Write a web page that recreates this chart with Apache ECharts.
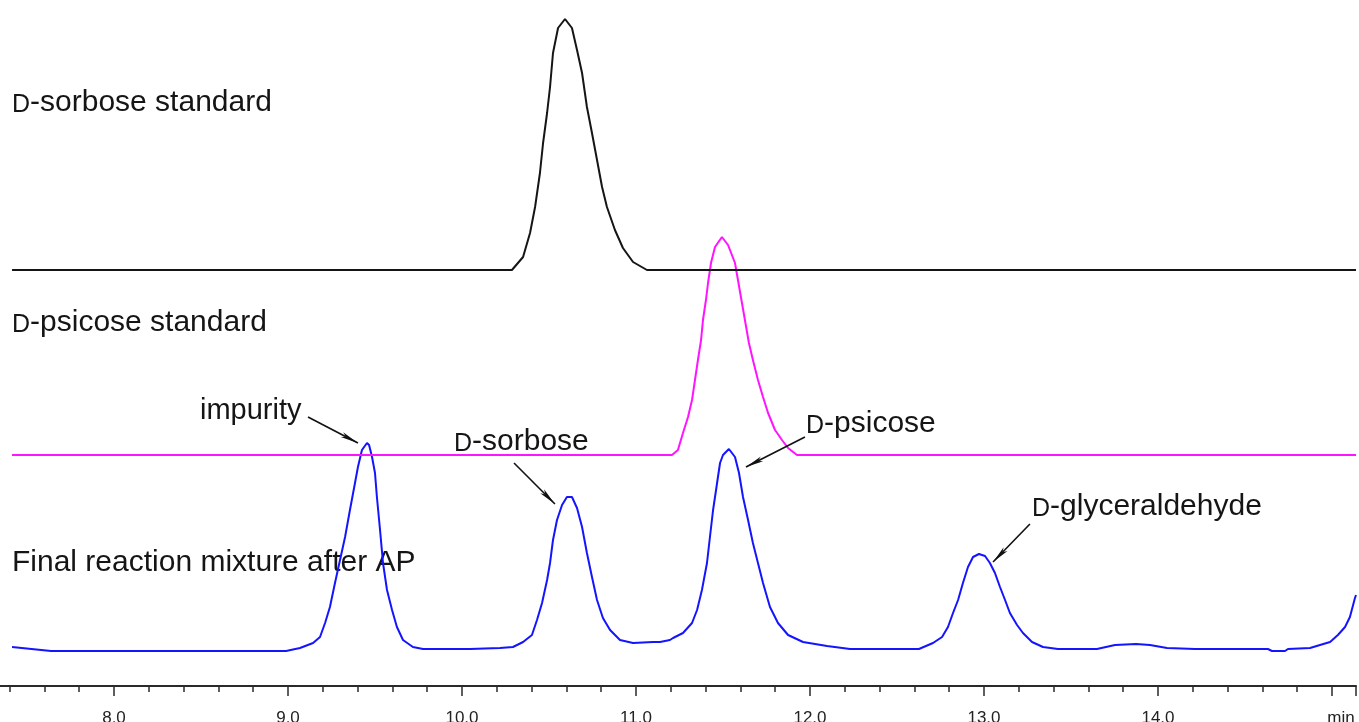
<!DOCTYPE html>
<html>
<head>
<meta charset="utf-8">
<script src="https://cdn.jsdelivr.net/npm/echarts@6/dist/echarts.min.js"></script>
<style>
  html, body { margin: 0; padding: 0; background: #fff; }
  #chart { width: 1359px; height: 722px; }
</style>
</head>
<body>
<div id="chart"></div>
<script>
// retention time (min) and detector signal for each trace, traces are stacked with an offset
const sorboseStdTime = [7.414, 10.287, 10.351, 10.391, 10.420, 10.448, 10.466, 10.489, 10.506, 10.523, 10.552, 10.592, 10.632, 10.661, 10.690, 10.718, 10.747, 10.776, 10.805, 10.833, 10.879, 10.925, 10.983, 11.063, 15.138];
const sorboseStdSignal = [0, 0, 13, 37, 63, 97, 127, 157, 183, 217, 242, 251, 242, 220, 197, 163, 137, 110, 83, 63, 40, 22, 8, 0, 0];
const sorboseStdOffset = 416;

const psicoseStdTime = [7.414, 11.207, 11.241, 11.270, 11.299, 11.322, 11.339, 11.356, 11.374, 11.385, 11.402, 11.414, 11.431, 11.454, 11.494, 11.529, 11.569, 11.586, 11.603, 11.626, 11.649, 11.672, 11.701, 11.730, 11.759, 11.799, 11.839, 11.874, 11.925, 15.138];
const psicoseStdSignal = [0, 0, 5, 22, 38, 55, 75, 95, 115, 135, 155, 172, 192, 208, 218, 210, 192, 175, 158, 135, 112, 95, 75, 58, 42, 25, 15, 7, 0, 0];
const psicoseStdOffset = 231;

const mixtureTime = [7.414, 7.638, 8.989, 9.069, 9.144, 9.184, 9.213, 9.241, 9.270, 9.299, 9.328, 9.356, 9.385, 9.402, 9.425, 9.454, 9.466, 9.483, 9.500, 9.511, 9.529, 9.546, 9.569, 9.598, 9.626, 9.661, 9.718, 9.776,
  10.046, 10.218, 10.293, 10.351, 10.402, 10.431, 10.460, 10.489, 10.506, 10.523, 10.546, 10.575, 10.603, 10.632, 10.661, 10.690, 10.718, 10.747, 10.776, 10.810, 10.851, 10.908, 10.983,
  11.098, 11.138, 11.195, 11.213, 11.270, 11.322, 11.351, 11.379, 11.408, 11.425, 11.443, 11.466, 11.483, 11.500, 11.534, 11.569, 11.592, 11.615, 11.644, 11.672, 11.701, 11.730, 11.770, 11.816, 11.874, 11.960,
  12.098, 12.230, 12.626, 12.707, 12.759, 12.793, 12.822, 12.851, 12.879, 12.908, 12.937, 12.971, 13.006, 13.034, 13.063, 13.092, 13.121, 13.149, 13.190, 13.224, 13.276, 13.339, 13.425,
  13.649, 13.753, 13.874, 13.954, 14.052, 14.213, 14.632, 14.655, 14.730, 14.747, 14.874, 14.931, 14.989, 15.034, 15.075, 15.103, 15.132, 15.138];
const mixtureSignal = [5, 1, 1, 4, 9, 15, 29, 45, 69, 92, 115, 142, 169, 185, 202, 209, 207, 195, 179, 155, 122, 89, 62, 42, 25, 12, 5, 3,
  3, 4, 5, 10, 17, 32, 49, 72, 89, 112, 132, 147, 155, 155, 144, 125, 99, 75, 52, 34, 22, 12, 9,
  10, 10, 12, 14, 19, 29, 42, 62, 89, 115, 142, 169, 189, 197, 203, 195, 179, 155, 132, 109, 89, 69, 45, 29, 17, 10,
  6, 3, 3, 9, 15, 25, 39, 52, 69, 85, 95, 98, 96, 89, 79, 65, 52, 39, 27, 19, 10, 5, 3,
  3, 7, 8, 7, 4, 3, 3, 1, 1, 3, 4, 7, 10, 17, 25, 35, 54, 57];
const mixtureOffset = 34;

// axis ticks
const tickMin = 7;
const tickMax = 15.138;
const tickStep = 1;

// peak annotations: text, arrow tail [time, value], arrow head [time, value]
const peakNames = ['{n|impurity}', '{sc|D}{n|-sorbose}', '{sc|D}{n|-psicose}', '{sc|D}{n|-glyceraldehyde}'];
const arrowTails = [[9.115, 269], [10.299, 223], [11.971, 249], [13.264, 162]];
const arrowHeads = [[9.402, 243], [10.534, 182], [11.632, 219], [13.052, 124]];

const traceNames = ['{sc|D}{n|-sorbose standard}', '{sc|D}{n|-psicose standard}', '{n|Final reaction mixture after AP}'];

function toPairs(times, signal, offset) {
  return times.map((t, i) => [t, signal[i] + offset]);
}

const chart = echarts.init(document.getElementById('chart'));
const font = "'Liberation Sans', Arial, sans-serif";

function textEl(text, x, y, size) {
  return {
    type: 'text',
    x: x,
    y: y,
    silent: true,
    style: {
      text: text,
      rich: {
        sc: { fontSize: Math.round(size * 0.83), fontFamily: font, fill: '#151515', verticalAlign: 'bottom' },
        n: { fontSize: size, fontFamily: font, fill: '#151515', verticalAlign: 'bottom' }
      },
      fontSize: size,
      fontFamily: font,
      fill: '#151515',
      align: 'left',
      verticalAlign: 'middle'
    }
  };
}

const option = {
  backgroundColor: '#fff',
  animation: false,
  grid: { left: -60, right: 3, top: 0, bottom: 36, containLabel: false, outerBoundsMode: 'none' },
  xAxis: {
    type: 'value',
    min: tickMin,
    max: tickMax,
    interval: tickStep,
    axisLine: { show: true, lineStyle: { color: '#2a2a2a', width: 2 } },
    axisTick: { show: true, length: 10, lineStyle: { color: '#2a2a2a', width: 1.5 } },
    minorTick: { show: true, splitNumber: 5, length: 6, lineStyle: { color: '#2a2a2a', width: 1.5 } },
    splitLine: { show: false },
    minorSplitLine: { show: false },
    axisLabel: {
      margin: 24,
      color: '#222',
      fontSize: 17,
      fontFamily: font,
      formatter: (v) => (v === 15 ? '{m|min}' : v.toFixed(1)),
      rich: { m: { fontSize: 17, fontFamily: font, color: '#222', padding: [0, 0, 0, 18] } }
    }
  },
  yAxis: { type: 'value', min: 0, max: 686, show: false },
  graphic: [
    textEl(traceNames[0], 12, 103, 30),
    textEl(traceNames[1], 12, 323, 30),
    textEl(traceNames[2], 12, 563, 30),
    textEl(peakNames[0], 200, 411, 29),
    textEl(peakNames[1], 454, 442, 30),
    textEl(peakNames[2], 806, 424, 30),
    textEl(peakNames[3], 1032, 507, 30)
  ],
  series: [
    {
      name: 'Final reaction mixture after AP',
      type: 'line',
      data: toPairs(mixtureTime, mixtureSignal, mixtureOffset),
      showSymbol: false,
      lineStyle: { color: '#1414ff', width: 2 },
      markLine: {
        silent: true,
        symbol: ['none', 'arrow'],
        symbolSize: [4, 18],
        lineStyle: { color: '#111', width: 1.6, type: 'solid' },
        label: { show: false },
        data: arrowTails.map((tail, i) => [{ coord: tail }, { coord: arrowHeads[i] }])
      }
    },
    {
      name: 'D-psicose standard',
      type: 'line',
      data: toPairs(psicoseStdTime, psicoseStdSignal, psicoseStdOffset),
      showSymbol: false,
      lineStyle: { color: '#ff14ff', width: 2 }
    },
    {
      name: 'D-sorbose standard',
      type: 'line',
      data: toPairs(sorboseStdTime, sorboseStdSignal, sorboseStdOffset),
      showSymbol: false,
      lineStyle: { color: '#151515', width: 2 }
    }
  ]
};

chart.setOption(option);
</script>
</body>
</html>
